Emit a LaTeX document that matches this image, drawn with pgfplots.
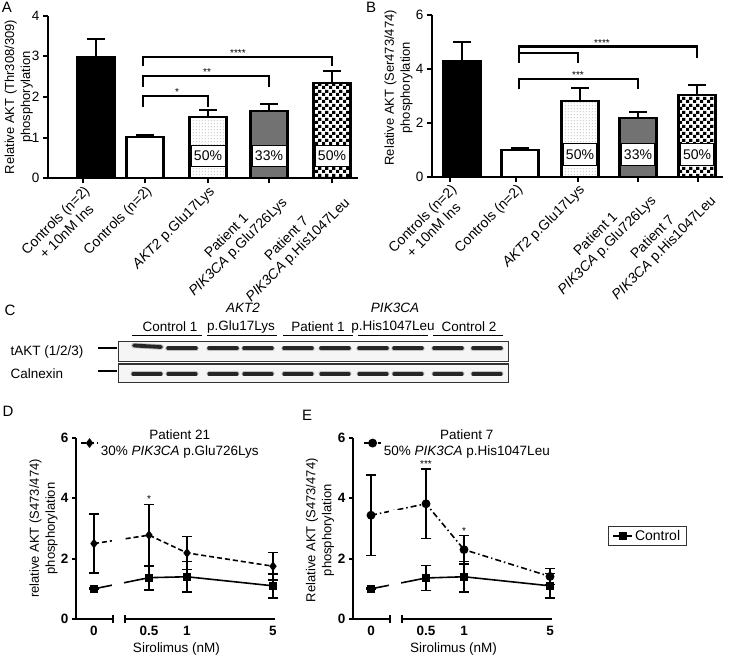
\documentclass[border=0pt]{standalone}
\usepackage{fontspec}
\setmainfont{Liberation Sans}
\usepackage{pgfplots}
\pgfplotsset{compat=1.18}
\usetikzlibrary{patterns,patterns.meta}

\pgfdeclarepattern{name=bigcheck, type=uncolored,
  bottom left={\pgfpointorigin}, top right={\pgfpoint{7pt}{7pt}},
  tile size={\pgfpoint{7pt}{7pt}},
  code={\pgfpathrectangle{\pgfpointorigin}{\pgfpoint{3.5pt}{3.5pt}}%
        \pgfpathrectangle{\pgfpoint{3.5pt}{3.5pt}}{\pgfpoint{3.5pt}{3.5pt}}%
        \pgfusepath{fill}}}
\pgfdeclarepattern{name=finedots, type=uncolored,
  bottom left={\pgfpointorigin}, top right={\pgfpoint{3pt}{3pt}},
  tile size={\pgfpoint{3pt}{3pt}},
  code={\pgfpathcircle{\pgfpoint{1.5pt}{1.5pt}}{0.5pt}\pgfusepath{fill}}}
\pgfdeclarepattern{name=densedots, type=uncolored,
  bottom left={\pgfpointorigin}, top right={\pgfpoint{2.4pt}{2.4pt}},
  tile size={\pgfpoint{2.4pt}{2.4pt}},
  code={\pgfpathcircle{\pgfpoint{1.2pt}{1.2pt}}{0.5pt}\pgfusepath{fill}}}

\newcommand\fs{\fontsize{13.5}{16}\selectfont}
\newcommand\fst{\fontsize{14}{16}\selectfont}
\newcommand\fsy{\fontsize{13}{16}\selectfont}
\newcommand\fsl{\fontsize{15}{16}\selectfont}

\pgfplotsset{
  /pgf/number format/assume math mode=true,
  gp/.style={scale only axis, clip=false, axis x line*=bottom, axis y line*=left,
    axis line style={line width=1.8pt, -}, tick style={line width=1.8pt, black},
    major tick length=5pt, tick align=outside,
    ticklabel style={font=\fs}, ylabel style={font=\fsy, align=center, anchor=center}},
  bstyle/.style={ybar, bar width=37, bar shift=0pt, draw=black, line width=2.2pt,
    error bars/y dir=plus, error bars/y explicit,
    error bars/error bar style={line width=2pt, solid, black},
    error bars/error mark options={rotate=90, mark size=9pt, line width=2pt, black}},
  lstyle/.style={line width=1.6pt, black, mark size=3.2pt, mark options={solid},
    error bars/y dir=both, error bars/y explicit,
    error bars/error bar style={line width=1.6pt, solid, black},
    error bars/error mark options={rotate=90, mark size=5pt, line width=1.6pt, black}},
}

\begin{document}
\begin{tikzpicture}
\useasboundingbox (0pt,0pt) rectangle (730pt,656pt);
\fill[white] (0pt,0pt) rectangle (730pt,656pt);

% panel letters
\node[font=\fsl] at (7pt,649pt) {A};
\node[font=\fsl] at (371pt,649pt) {B};
\node[font=\fsl] at (10pt,346pt) {C};
\node[font=\fsl] at (8pt,245pt) {D};
\node[font=\fsl] at (307pt,241pt) {E};

% ---------------- Panel A ----------------
\begin{axis}[gp, at={(48pt,477.7pt)}, anchor=south west,
  width=310pt, height=162.6pt, xmin=48, xmax=358, ymin=0, ymax=4,
  ytick={0,1,2,3,4},
  xtick={83,145,208,269,332},
  xticklabels={{Controls (n=2)\\+ 10nM Ins},{Controls (n=2)},{\textit{AKT2} p.Glu17Lys},{Patient 1\\\textit{PIK3CA} p.Glu726Lys},{Patient 7\\\textit{PIK3CA} p.His1047Leu}},
  xticklabel style={rotate=45, anchor=north east, align=center, inner sep=1pt, font=\fst},
  ylabel={Relative AKT (Thr308/309)\\phosphorylation},
  ylabel style={at={(axis description cs:-0.094,0.5)}}]
\addplot[bstyle, fill=black] coordinates {(96,2.98) +- (0,0.44)};
\addplot[bstyle, fill=white] coordinates {(145,1.02) +- (0,0.04)};
\addplot[bstyle, pattern=finedots, pattern color=black!75] coordinates {(208,1.51) +- (0,0.17)};
\addplot[bstyle, fill=black!60, postaction={pattern=densedots, pattern color=white}] coordinates {(269,1.66) +- (0,0.16)};
\addplot[bstyle, pattern=bigcheck, pattern color=black] coordinates {(332,2.34) +- (0,0.31)};
\foreach \xx/\tt in {208/50,269/33,332/50}{
  \edef\tmp{\noexpand\node[draw, line width=0.9pt, fill=white, minimum width=34pt, minimum height=21pt, inner sep=0pt, font=\noexpand\fst] at (axis cs:\xx,0.55) {\tt\noexpand\%};}\tmp}
\draw[line width=2.2pt] (axis cs:143,1.75) -- (axis cs:143,2.03) -- (axis cs:208,2.03) -- (axis cs:208,1.75);
\draw[line width=2.2pt] (axis cs:143,2.24) -- (axis cs:143,2.52) -- (axis cs:269,2.52) -- (axis cs:269,2.24);
\draw[line width=2.2pt] (axis cs:143,2.76) -- (axis cs:143,2.99) -- (axis cs:332,2.99) -- (axis cs:332,2.76);
\node[font=\fontsize{10}{10}\selectfont] at (axis cs:177,2.13) {*};
\node[font=\fontsize{10}{10}\selectfont] at (axis cs:207,2.62) {**};
\node[font=\fontsize{10}{10}\selectfont] at (axis cs:238,3.09) {****};
\end{axis}

% ---------------- Panel B ----------------
\begin{axis}[gp, at={(432pt,479.3pt)}, anchor=south west,
  width=291pt, height=161.7pt, xmin=432, xmax=723, ymin=0, ymax=6,
  ytick={0,2,4,6},
  xtick={450,516,578,638,698},
  xticklabels={{Controls (n=2)\\+ 10nM Ins},{Controls (n=2)},{\textit{AKT2} p.Glu17Lys},{Patient 1\\\textit{PIK3CA} p.Glu726Lys},{Patient 7\\\textit{PIK3CA} p.His1047Leu}},
  xticklabel style={rotate=45, anchor=north east, align=center, inner sep=1pt, font=\fst},
  ylabel={Relative AKT (Ser473/474)\\phosphorylation},
  ylabel style={at={(axis description cs:-0.115,0.55)}}]
\addplot[bstyle, fill=black] coordinates {(462,4.29) +- (0,0.70)};
\addplot[bstyle, fill=white] coordinates {(520,0.99) +- (0,0.06)};
\addplot[bstyle, pattern=finedots, pattern color=black!75] coordinates {(580,2.81) +- (0,0.47)};
\addplot[bstyle, fill=black!60, postaction={pattern=densedots, pattern color=white}] coordinates {(638,2.17) +- (0,0.22)};
\addplot[bstyle, pattern=bigcheck, pattern color=black] coordinates {(697,3.03) +- (0,0.36)};
\foreach \xx/\tt in {580/50,638/33,697/50}{
  \edef\tmp{\noexpand\node[draw, line width=0.9pt, fill=white, minimum width=33pt, minimum height=22pt, inner sep=0pt, font=\noexpand\fst] at (axis cs:\xx,0.81) {\tt\noexpand\%};}\tmp}
\draw[line width=2.2pt] (axis cs:519,4.22) -- (axis cs:519,4.83) -- (axis cs:697,4.83) -- (axis cs:697,4.39);
\draw[line width=2.2pt] (axis cs:519,4.6) -- (axis cs:578,4.6) -- (axis cs:578,4.22);
\draw[line width=2.2pt] (axis cs:519,3.24) -- (axis cs:519,3.63) -- (axis cs:638,3.63) -- (axis cs:638,3.24);
\node[font=\fontsize{10}{10}\selectfont] at (axis cs:602,4.97) {****};
\node[font=\fontsize{10}{10}\selectfont] at (axis cs:578,3.79) {***};
\end{axis}

% ---------------- Panel C (blot) ----------------
\node[font=\fs, anchor=west] at (7pt,303.7pt) {tAKT (1/2/3)};
\node[font=\fs, anchor=west] at (7pt,282pt) {Calnexin};
\draw[line width=1.3pt] (98pt,308pt) -- (117pt,308pt);
\draw[line width=1.3pt] (98pt,285pt) -- (117pt,285pt);
\node[font=\fs] at (170pt,329.3pt) {Control 1};
\node[font=\fs] at (241pt,329.3pt) {p.Glu17Lys};
\node[font=\fs] at (318pt,329.3pt) {Patient 1};
\node[font=\fs] at (393pt,329.3pt) {p.His1047Leu};
\node[font=\fs] at (469pt,329.3pt) {Control 2};
\node[font=\fs\itshape] at (243pt,348pt) {AKT2};
\node[font=\fs\itshape] at (395pt,348pt) {PIK3CA};
\foreach \a/\b in {132/202,207/277,283/353,358/428,433/503}
  \draw[line width=1.3pt] (\a pt,320.3pt) -- (\b pt,320.3pt);
\draw[line width=1.2pt, draw=black!80, fill=black!4] (118.3pt,294.3pt) rectangle (508.3pt,314.3pt);
\draw[line width=1.2pt, draw=black!80, fill=black!4] (118.3pt,273.7pt) rectangle (508.3pt,292pt);

\begin{axis}[at={(0pt,0pt)}, anchor=south west, scale only axis, width=730pt, height=656pt,
  xmin=0, xmax=730, ymin=0, ymax=656, hide axis, clip=false]
\addplot[line width=5.5pt, black!25, line cap=round] coordinates {(134,310.5) (161,309)};
\addplot[line width=3.8pt, black!85, line cap=round] coordinates {(134,310.5) (161,309)};
\foreach \c in {182,223,258,298,335,373,408,448,487}{
  \edef\tmp{\noexpand\addplot[line width=5.5pt, black!25, line cap=round] coordinates {(\c-14,307.7) (\c+14,307.7)};
  \noexpand\addplot[line width=3.6pt, black!85, line cap=round] coordinates {(\c-14,307.7) (\c+14,307.7)};}\tmp}
\foreach \c in {147,182,223,258,298,335,373,408,448,487}{
  \edef\tmp{\noexpand\addplot[line width=5pt, black!25, line cap=round] coordinates {(\c-14,282) (\c+14,282)};
  \noexpand\addplot[line width=3.1pt, black!85, line cap=round] coordinates {(\c-14,282) (\c+14,282)};}\tmp}
\end{axis}

% ---------------- Panel D ----------------
\begin{axis}[gp, at={(76pt,37pt)}, anchor=south west, width=201pt, height=181pt,
  xmin=0, xmax=201, ymin=0, ymax=6, ytick={0,2,4,6}, major tick length=4pt,
  yticklabel style={font=\fs\bfseries},
  xtick={18,73,111,197}, xticklabels={0,0.5,1,5}, xticklabel style={font=\fs\bfseries},
  x axis line style={draw=none}, xtick style={draw=none},
  xlabel={Sirolimus (nM)}, xlabel style={font=\fs},
  ylabel={relative AKT (S473/474)\\phosphorylation},
  ylabel style={at={(axis description cs:-0.162,0.5)}},
  legend style={at={(0.02,0.972)}, anchor=west, draw=none, fill=none, font=\fs,
    cells={align=center}, inner sep=0pt}]
\addplot[lstyle, dash pattern=on 5pt off 3pt, mark=diamond*, mark size=3.6pt] coordinates {
  (18,2.50) +- (0,0.98) (73,2.78) +- (0,1.02) (111,2.19) +- (0,0.55) (197,1.75) +- (0,0.46)};
\addlegendentry{Patient 21\\30\% \textit{PIK3CA} p.Glu726Lys}
\addplot[lstyle, mark=square*, forget plot] coordinates {
  (18,1.0) +- (0,0.02) (73,1.37) +- (0,0.40) (111,1.40) +- (0,0.50) (197,1.10) +- (0,0.40)};
\fill[white] (axis cs:36,0.2) rectangle (axis cs:48,3.2);
\draw[line width=1.8pt] (axis cs:-0.5,0) -- (axis cs:37,0);
\draw[line width=1.8pt] (axis cs:49,0) -- (axis cs:199,0);
\draw[line width=1.8pt] (axis cs:37,-0.13) -- (axis cs:37,0.13);
\draw[line width=1.8pt] (axis cs:49,-0.13) -- (axis cs:49,0.13);
\node[font=\fontsize{10}{10}\selectfont] at (axis cs:73,3.97) {*};
\end{axis}

% ---------------- Panel E ----------------
\begin{axis}[gp, at={(353pt,37pt)}, anchor=south west, width=201pt, height=181pt,
  xmin=0, xmax=201, ymin=0, ymax=6, ytick={0,2,4,6}, major tick length=4pt,
  yticklabel style={font=\fs\bfseries},
  xtick={18,73,111,197}, xticklabels={0,0.5,1,5}, xticklabel style={font=\fs\bfseries},
  x axis line style={draw=none}, xtick style={draw=none},
  xlabel={Sirolimus (nM)}, xlabel style={font=\fs},
  ylabel={Relative AKT (S473/474)\\phosphorylation},
  ylabel style={at={(axis description cs:-0.164,0.49)}},
  legend style={at={(0.05,0.972)}, anchor=west, draw=none, fill=none, font=\fs,
    cells={align=center}, inner sep=0pt}]
\addplot[lstyle, dash pattern=on 6pt off 3pt on 1.5pt off 3pt, mark=*, mark size=3.6pt] coordinates {
  (18,3.44) +- (0,1.33) (73,3.82) +- (0,1.15) (111,2.30) +- (0,0.47) (197,1.41) +- (0,0.26)};
\addlegendentry{Patient 7\\50\% \textit{PIK3CA} p.His1047Leu}
\addplot[lstyle, mark=square*, forget plot] coordinates {
  (18,1.0) +- (0,0.02) (73,1.36) +- (0,0.42) (111,1.40) +- (0,0.50) (197,1.10) +- (0,0.41)};
\fill[white] (axis cs:36,0.2) rectangle (axis cs:48,3.6);
\draw[line width=1.8pt] (axis cs:-0.5,0) -- (axis cs:37,0);
\draw[line width=1.8pt] (axis cs:49,0) -- (axis cs:199,0);
\draw[line width=1.8pt] (axis cs:37,-0.13) -- (axis cs:37,0.13);
\draw[line width=1.8pt] (axis cs:49,-0.13) -- (axis cs:49,0.13);
\node[font=\fontsize{10}{10}\selectfont] at (axis cs:73,5.12) {***};
\node[font=\fontsize{10}{10}\selectfont] at (axis cs:111,2.92) {*};
\end{axis}

% ---------------- Control legend ----------------
\begin{axis}[at={(608pt,120pt)}, anchor=south west, scale only axis, width=10pt, height=10pt,
  xmin=0, xmax=1, ymin=0, ymax=1, hide axis,
  legend image code/.code={\draw[#1] (0pt,0pt) -- (19pt,0pt); \draw[#1] plot coordinates {(9.5pt,0pt)};},
  legend style={at={(0,0)}, anchor=west, draw=black!80, line width=0.8pt, font=\fst,
    inner xsep=4pt, inner ysep=2pt}]
\addlegendimage{line width=1.6pt, black, mark=square*, mark size=3.2pt}
\addlegendentry{Control}
\end{axis}
\end{tikzpicture}
\end{document}
